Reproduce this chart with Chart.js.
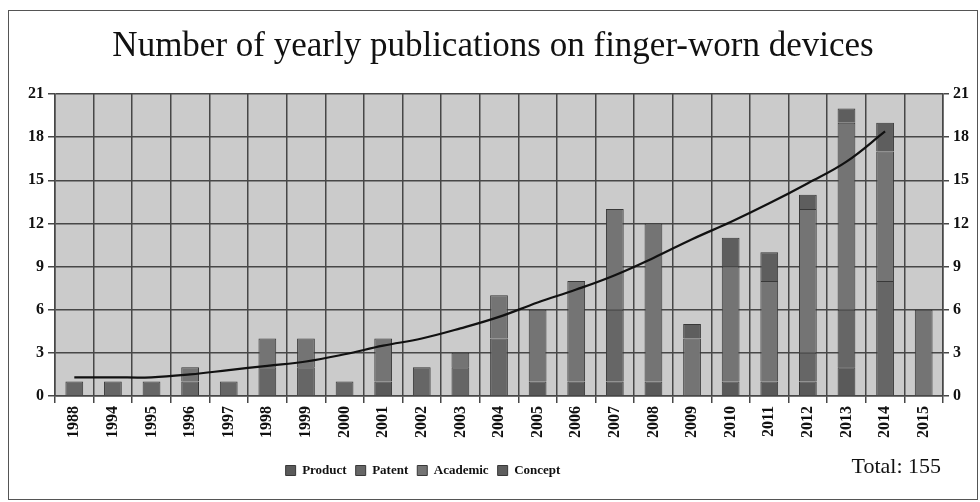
<!DOCTYPE html>
<html>
<head>
<meta charset="utf-8">
<script src="https://cdn.jsdelivr.net/npm/chart.js@4"></script>
<style>
  body { margin: 0; background: #fff; }
  #frame { position: absolute; left: 8px; top: 10px; width: 968px; height: 488px; border: 1px solid #555; }
  #myChart { display: block; }
</style>
</head>
<body>
<div id="frame"><canvas id="myChart" width="968" height="488"></canvas></div>
<script>
// data
const years = ['1988', '1994', '1995', '1996', '1997', '1998', '1999', '2000', '2001', '2002', '2003',
    '2004', '2005', '2006', '2007', '2008', '2009', '2010', '2011', '2012', '2013', '2014', '2015'];
const product  = [0, 0, 0, 0, 0, 0, 0, 0, 1, 0, 0, 0, 1, 1, 1, 1, 0, 1, 1, 1, 2, 0, 0];
const patent   = [1, 1, 1, 1, 1, 2, 2, 1, 0, 2, 2, 4, 0, 0, 5, 0, 0, 0, 0, 2, 4, 8, 0];
const academic = [0, 0, 0, 1, 0, 2, 2, 0, 3, 0, 1, 3, 5, 7, 7, 11, 4, 8, 7, 10, 13, 9, 6];
const concept  = [0, 0, 0, 0, 0, 0, 0, 0, 0, 0, 0, 0, 0, 0, 0, 0, 1, 2, 2, 1, 1, 2, 0];
const trend    = [1.3, 1.3, 1.3, 1.5, 1.8, 2.1, 2.4, 2.9, 3.5, 4.0, 4.7, 5.5, 6.5, 7.4, 8.4, 9.6,
    10.9, 12.1, 13.4, 14.8, 16.3, 18.4, null];
const yTicks = [0, 3, 6, 9, 12, 15, 18, 21];
const total = 155;

const serif = "'Liberation Serif', 'Times New Roman', serif";
const gridColor = '#474747';

// grey plot area, "Total" note, legend nudged left like the original
const extras = {
    id: 'extras',
    beforeDraw(chart) {
        const a = chart.chartArea, c = chart.ctx;
        c.save();
        c.fillStyle = '#cbcbcb';
        c.fillRect(a.left, a.top, a.right - a.left, a.bottom - a.top);
        c.restore();
    },
    afterLayout(chart) {
        chart.legend.left -= 70;
        chart.legend.right -= 70;
    },
    afterDraw(chart) {
        const c = chart.ctx;
        c.save();
        c.font = '22px ' + serif;
        c.fillStyle = '#111';
        c.textAlign = 'right';
        c.textBaseline = 'middle';
        c.fillText('Total: ' + total, 932, 456);
        c.restore();
    }
};

let tickOpts = {
    stepSize: 3,
    color: '#111',
    font: { family: serif, size: 16, weight: 'bold' },
    padding: 4
};

let ctx = document.getElementById('myChart').getContext('2d');
let chart = new Chart(ctx, {
    type: 'bar',
    data: {
        labels: years,
        datasets: [
            { label: 'Product', data: product, backgroundColor: '#5a5a5a', borderColor: '#383838', borderWidth: 1, stack: 's', order: 2 },
            { label: 'Patent', data: patent, backgroundColor: '#666666', borderColor: '#383838', borderWidth: 1, stack: 's', order: 2 },
            { label: 'Academic', data: academic, backgroundColor: '#747474', borderColor: '#383838', borderWidth: 1, stack: 's', order: 2 },
            { label: 'Concept', data: concept, backgroundColor: '#5e5e5e', borderColor: '#383838', borderWidth: 1, stack: 's', order: 2 },
            { type: 'line', label: 'trend', data: trend, yAxisID: 'y2', borderColor: '#111', borderWidth: 2.2,
              pointRadius: 0, tension: 0.4, fill: false, order: 1 }
        ]
    },
    options: {
        responsive: false,
        animation: false,
        layout: { padding: { bottom: 12 } },
        datasets: { bar: { barPercentage: 0.46, categoryPercentage: 1 } },
        scales: {
            x: {
                stacked: true,
                grid: { color: gridColor, lineWidth: 1.5, tickLength: 7, offset: true },
                border: { color: gridColor, width: 1.5 },
                ticks: { color: '#111', font: { family: serif, size: 16, weight: 'bold' }, minRotation: 90, maxRotation: 90, autoSkip: false, padding: 3 },
                afterFit(s) { s.height = 59; }
            },
            y: {
                stacked: true, min: 0, max: 21,
                grid: { color: gridColor, lineWidth: 1.5, tickLength: 7 },
                border: { color: gridColor, width: 1.5 },
                ticks: tickOpts,
                afterBuildTicks(s) { s.ticks = yTicks.map(v => ({ value: v })); },
                afterFit(s) { s.width = 46; }
            },
            y2: {
                position: 'right', min: 0, max: 21,
                grid: { drawOnChartArea: false, color: gridColor, lineWidth: 1.5, tickLength: 6 },
                border: { color: gridColor, width: 1.5 },
                ticks: tickOpts,
                afterBuildTicks(s) { s.ticks = yTicks.map(v => ({ value: v })); },
                afterFit(s) { s.width = 34; }
            }
        },
        plugins: {
            title: {
                display: true,
                text: 'Number of yearly publications on finger-worn devices',
                color: '#111',
                font: { family: serif, size: 35, weight: 'normal' },
                padding: { top: 15, bottom: 26 }
            },
            legend: {
                position: 'bottom',
                labels: {
                    filter: (item) => item.text !== 'trend',
                    boxWidth: 10, boxHeight: 10, padding: 9,
                    color: '#111',
                    font: { family: serif, size: 13, weight: 'bold' }
                }
            },
            tooltip: { enabled: false }
        }
    },
    plugins: [extras]
});
</script>
</body>
</html>
